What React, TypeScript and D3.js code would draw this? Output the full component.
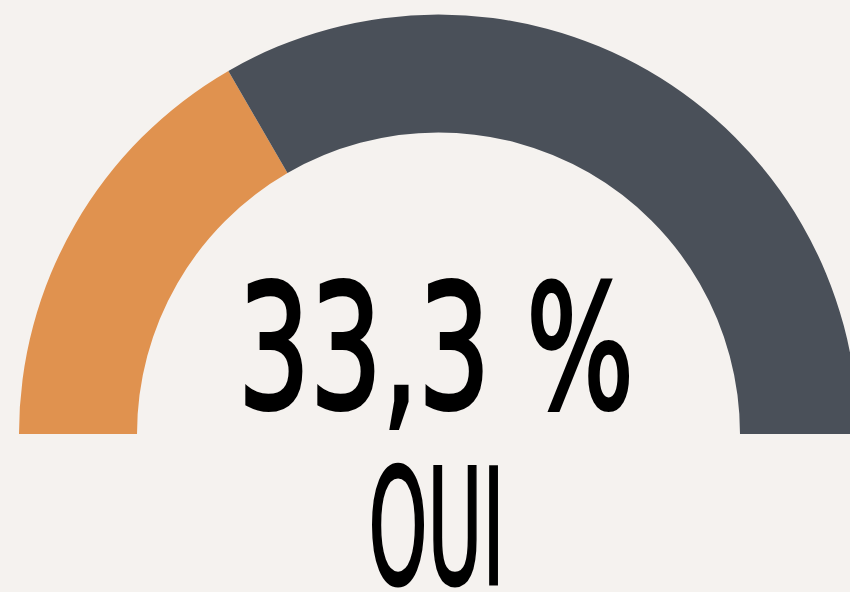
import * as d3 from "d3"

const WIDTH = 850
const HEIGHT = 592

const categories = ["OUI", "NON"]
const values = [33.3, 66.7]
const colors = ["#e0924f", "#4a5059"]
const valueLabel = "33,3 %"
const categoryLabel = "OUI"

const CENTER_X = 438.5
const CENTER_Y = 434
const INNER_RADIUS = 301.5
const OUTER_RADIUS = 419.5

export default function App() {
  const pie = d3
    .pie<number>()
    .sort(null)
    .startAngle(-Math.PI / 2)
    .endAngle(Math.PI / 2)
  const arcs = pie(values)

  const arc = d3
    .arc<d3.PieArcDatum<number>>()
    .innerRadius(INNER_RADIUS)
    .outerRadius(OUTER_RADIUS)

  return (
    <svg
      width={WIDTH}
      height={HEIGHT}
      style={{ position: "absolute", left: 0, top: 0, display: "block" }}
    >
      <rect width={WIDTH} height={HEIGHT} fill="#f5f2ef" />
      <g transform={`translate(${CENTER_X}, ${CENTER_Y})`}>
        {arcs.map((d, i) => (
          <path key={categories[i]} d={arc(d) ?? ""} fill={colors[i]} />
        ))}
      </g>
      <text
        x={436}
        y={408}
        textAnchor="middle"
        fontFamily="'DejaVu Sans', sans-serif"
        fontWeight={400}
        fontSize={172}
        textLength={396}
        lengthAdjust="spacingAndGlyphs"
        fill="#000"
        stroke="#000"
        strokeWidth={4}
        strokeLinejoin="miter"
      >
        {valueLabel}
      </text>
      <text
        x={436.5}
        y={584}
        textAnchor="middle"
        fontFamily="'DejaVu Sans', sans-serif"
        fontWeight={400}
        fontSize={160}
        textLength={136}
        lengthAdjust="spacingAndGlyphs"
        fill="#000"
        stroke="#000"
        strokeWidth={3}
        strokeLinejoin="miter"
      >
        {categoryLabel}
      </text>
    </svg>
  )
}
